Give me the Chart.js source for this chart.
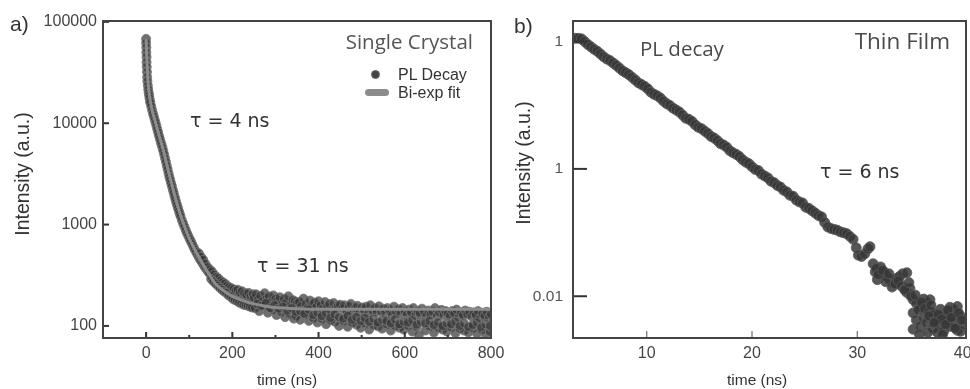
<!DOCTYPE html>
<html>
<head>
<meta charset="utf-8">
<script src="https://cdn.jsdelivr.net/npm/chart.js@4.4.1/dist/chart.umd.min.js"></script>
<style>
html, body { margin: 0; padding: 0; background: #fff; overflow: hidden; width: 970px; height: 389px; }
#wrap { position: relative; width: 970px; height: 389px; overflow: hidden; }
canvas { position: absolute; top: 0; }
#left { left: 0; }
#right { left: 500px; }
.t { position: absolute; white-space: nowrap; line-height: 1; }
.os { font-family: "Open Sans", sans-serif; color: #4a4a4a; }
.dv { font-family: "DejaVu Sans", sans-serif; color: #333; }
.ls { font-family: "Liberation Sans", Arial, sans-serif; color: #333; }
.ylab { transform: translate(-50%, -50%) rotate(-90deg); }
</style>
</head>
<body>
<div id="wrap">
  <canvas id="left" width="520" height="389"></canvas>
  <canvas id="right" width="480" height="389"></canvas>

  <div class="t ls" style="left:10px; top:13px; font-size:21px;">a)</div>
  <div class="t ls" style="left:514px; top:15px; font-size:21px;">b)</div>

  <div class="t ls ylab" style="left:23px; top:174px; font-size:19.5px;">Intensity (a.u.)</div>
  <div class="t ls ylab" style="left:524px; top:163px; font-size:19.5px;">Intensity (a.u.)</div>
  <div class="t ls" style="left:257px; top:372px; font-size:15.5px;">time (ns)</div>
  <div class="t ls" style="left:727px; top:372px; font-size:15.5px;">time (ns)</div>

  <div class="t os" style="right:497px; top:31px; font-size:20.5px; color:#555;">Single Crystal</div>
  <div style="position:absolute; left:371px; top:70px; width:9px; height:9px; border-radius:50%; background:#444; border:1px solid #666; box-sizing:border-box;"></div>
  <div style="position:absolute; left:365px; top:89px; width:24px; height:7px; border-radius:4px; background:#8c8c8c;"></div>
  <div class="t ls" style="left:398px; top:67px; font-size:16px;">PL Decay</div>
  <div class="t ls" style="left:398px; top:85px; font-size:16px;">Bi-exp fit</div>
  <div class="t dv" style="left:190px; top:111px; font-size:19px;">&tau; = 4 ns</div>
  <div class="t dv" style="left:257px; top:256px; font-size:19px;">&tau; = 31 ns</div>

  <div class="t os" style="left:640px; top:38px; font-size:20.5px;">PL decay</div>
  <div class="t os" style="right:20px; top:30px; font-size:22.5px;">Thin Film</div>
  <div class="t dv" style="left:820px; top:162px; font-size:19px;">&tau; = 6 ns</div>
</div>

<script>
// ---- panel a) single crystal ----
const leftXTicks = [0, 200, 400, 600, 800];
const leftXMinor = [100, 300, 500, 700];
const leftYTicks = [100, 1000, 10000, 100000];
const leftYLabels = ["100", "1000", "10000", "100000"];

const leftTime = [
  0, 0, 0.5, 0.5, 1, 1, 1.5, 2, 2.5, 3, 4, 5, 6, 7, 8, 9, 10, 12, 14, 16, 18, 20, 22, 24, 26, 28, 30,
  32, 34, 36, 38, 40, 42, 44, 46, 48, 50, 52, 54, 56, 58, 60, 62, 64, 66, 68, 70, 72, 74, 76, 78, 80,
  83, 86, 89, 92, 95, 98, 101, 104, 107, 110, 113, 116, 119, 122, 125, 128, 131, 134, 137, 140, 143,
  146, 149, 152, 155, 158, 161, 164, 167, 170, 173, 176, 180, 184, 188, 192, 196, 200,
  204, 208, 212, 216, 220, 224, 228, 232, 236, 240, 244, 248,
  122.5, 127.5, 132.5, 137.5, 142.5, 147.5, 152.5, 157.5, 162.5, 167.5, 172.5, 177.5, 182.5, 187.5,
  192.5, 197.5, 202.5, 207.5, 212.5, 217.5, 222.5, 227.5, 232.5, 237.5, 242.5, 247.5,
  151, 156, 161, 166, 171, 176, 181, 186, 191, 196, 201, 206, 211, 216, 221, 226, 231, 236, 241, 246,
  250, 255, 260, 265, 270, 275, 280, 285, 290, 295, 300,
  305, 310, 315, 320, 325, 330, 335, 340, 345, 350,
  355, 360, 365, 370, 375, 380, 385, 390, 395, 400,
  405, 410, 415, 420, 425, 430, 435, 440, 445, 450,
  455, 460, 465, 470, 475, 480, 485, 490, 495, 500,
  505, 510, 515, 520, 525, 530, 535, 540, 545, 550,
  555, 560, 565, 570, 575, 580, 585, 590, 595, 600,
  605, 610, 615, 620, 625, 630, 635, 640, 645, 650,
  655, 660, 665, 670, 675, 680, 685, 690, 695, 700,
  705, 710, 715, 720, 725, 730, 735, 740, 745, 750,
  755, 760, 765, 770, 775, 780, 785, 790, 795, 800,
  252.5, 262.5, 272.5, 282.5, 292.5, 302.5, 312.5, 322.5, 332.5, 342.5,
  347.5, 357.5, 367.5, 377.5, 387.5, 397.5, 407.5, 417.5, 427.5, 437.5,
  447.5, 457.5, 467.5, 477.5, 487.5, 497.5, 507.5, 517.5, 527.5, 537.5,
  547.5, 557.5, 567.5, 577.5, 587.5, 597.5, 607.5, 617.5, 627.5, 632.5,
  647.5, 657.5, 667.5, 677.5, 687.5, 697.5, 707.5, 717.5, 727.5, 737.5,
  747.5, 757.5, 767.5, 777.5, 787.5, 797.5,
  257.5, 267.5, 277.5, 287.5, 297.5, 307.5, 317.5, 327.5, 337.5, 347.5,
  357.5, 367.5, 377.5, 387.5, 397.5, 407.5, 417.5, 427.5, 437.5, 447.5,
  457.5, 467.5, 477.5, 487.5, 497.5, 507.5, 517.5, 527.5, 537.5, 547.5,
  557.5, 567.5, 577.5, 587.5, 597.5, 607.5, 617.5, 627.5, 637.5, 647.5,
  657.5, 667.5, 677.5, 687.5, 697.5, 707.5, 717.5, 727.5, 737.5, 747.5,
  757.5, 767.5, 777.5, 787.5, 797.5
];
const leftIntensity = [
  68000, 62000, 56000, 50000, 45000, 40000, 36000, 32000, 28500, 26000, 23500, 21500, 20000, 18800, 17600, 16500, 15800, 14600, 13400, 12400, 11600, 10800, 10100, 9400, 8700, 8100, 7500,
  7000, 6500, 6100, 5700, 5300, 4900, 4500, 4150, 3800, 3500, 3200, 2950, 2750, 2550, 2380, 2200, 2050, 1900, 1770, 1650, 1550, 1450, 1360, 1280, 1200,
  1100, 1020, 950, 880, 820, 770, 720, 680, 640, 600, 565, 535, 505, 478, 455, 435, 415, 395, 378, 362, 348,
  335, 322, 312, 300, 290, 282, 275, 268, 260, 252, 246, 240, 234, 226, 220, 214, 208,
  204, 200, 196, 193, 190, 188, 185, 183, 180, 178, 176, 174,
  520, 480, 450, 410, 380, 360, 345, 322, 305, 295, 280, 270, 262, 250,
  242, 236, 230, 222, 228, 215, 220, 210, 205, 212, 198, 205,
  290, 275, 262, 250, 238, 228, 218, 212, 200, 195, 185, 180, 176, 170, 166, 162, 160, 158, 155, 152,
  190, 205, 182, 198, 176, 210, 188, 195, 172, 200, 185,
  178, 192, 165, 185, 170, 196, 160, 180, 175, 168,
  172, 158, 186, 165, 150, 178, 162, 170, 155, 175,
  160, 148, 172, 155, 165, 142, 168, 150, 158, 162,
  148, 160, 140, 155, 165, 138, 150, 158, 135, 152,
  145, 155, 132, 160, 142, 150, 138, 156, 140, 148,
  135, 150, 142, 128, 155, 138, 146, 132, 150, 140,
  130, 145, 136, 150, 128, 140, 133, 148, 138, 126,
  142, 130, 138, 150, 125, 136, 144, 128, 140, 132,
  126, 140, 132, 145, 122, 135, 128, 142, 130, 138,
  124, 136, 128, 140, 120, 132, 126, 138, 122, 130,
  150, 140, 158, 135, 145, 128, 138, 122, 132, 118,
  125, 115, 130, 112, 120, 108, 118, 104, 114, 110,
  100, 112, 98, 108, 103, 96, 106, 92, 102, 99,
  94, 104, 90, 100, 96, 92, 101, 88, 98, 81,
  90, 99, 86, 96, 92, 88, 97, 85, 94, 90,
  86, 95, 84, 92, 83, 88,
  165, 158, 168, 150, 160, 148, 155, 142, 150, 138,
  140, 132, 145, 128, 136, 125, 134, 120, 130, 122,
  118, 126, 115, 122, 112, 120, 110, 118, 108, 115,
  112, 106, 116, 104, 110, 108, 114, 103, 110, 106,
  112, 102, 108, 100, 106, 104, 110, 100, 106, 98,
  102, 108, 97, 104, 100
];

const leftFitTime = [0, 1, 2, 3, 5, 7, 10, 15, 20, 25, 30, 40, 50, 60, 70, 80, 90, 100, 115, 130, 145,
  160, 180, 200, 225, 250, 275, 300, 350, 400, 500, 600, 700, 800];
const leftFitIntensity = [68000, 50000, 40000, 33000, 24000, 20000, 16300, 12900, 10800, 9100, 7600, 5400,
  3600, 2450, 1700, 1230, 940, 730, 545, 420, 330, 262, 222, 196, 178, 165, 157, 152, 148, 146, 146, 146, 146, 146];

// ---- panel b) thin film ----
const rightXTicks = [10, 20, 30, 40];
const rightXMarks = [10, 20, 30];
const rightYTicks = [0.01, 0.1, 1];
const rightYLabels = ["0.01", "1", "1"];

const rightTime = [
  3.2, 3.5, 3.8, 4.1, 4.4, 4.7, 5.0, 5.3, 5.6, 5.9, 6.2, 6.5, 6.8, 7.1, 7.4, 7.7, 8.0, 8.3, 8.6, 8.9,
  9.2, 9.5, 9.8, 10.1, 10.4, 10.7, 11.0, 11.3, 11.6, 11.9, 12.2, 12.5, 12.8, 13.1, 13.4, 13.7, 14.0,
  14.3, 14.6, 14.9, 15.2, 15.5, 15.8, 16.1, 16.4, 16.7, 17.0, 17.3, 17.6, 17.9, 18.2, 18.5, 18.8,
  19.1, 19.4, 19.7, 20.0, 20.3, 20.6, 20.9, 21.2, 21.5, 21.8, 22.1, 22.4, 22.7, 23.0, 23.3, 23.6,
  23.9, 24.2, 24.5, 24.8, 25.1, 25.4, 25.7, 26.0, 26.3,
  26.6, 26.9, 27.2, 27.5, 27.8, 28.1, 28.4, 28.7, 29.0, 29.3, 29.6, 29.9, 30.1, 30.4, 30.7, 31.0,
  31.2, 31.5, 31.7, 31.9, 32.2, 32.5, 32.8, 33.1, 33.4, 33.7, 34.0, 34.3, 34.7, 34.7, 35.0, 35.3,
  35.3, 35.3, 35.6, 35.6, 36.0, 36.0, 36.3, 36.3, 36.6, 36.6, 36.9, 36.9, 37.2, 37.2, 37.6, 37.6,
  37.9, 37.9, 38.2, 38.2, 38.5, 38.5, 38.8, 38.8, 39.1, 39.1, 39.5, 39.5, 39.8, 39.8, 40.1,
  31.8, 32.0, 32.4, 32.7, 33.0, 33.3, 33.6, 33.9, 34.2, 34.5, 34.9, 35.1, 35.5, 35.8, 36.1, 36.4,
  36.8, 37.0, 37.4, 37.7, 38.0, 38.4, 38.6, 39.0, 39.3, 39.6, 39.9, 35.9, 36.7, 37.3, 38.1, 38.9
];
const rightIntensity = [
  1.06, 1.06, 1.05, 1.0, 0.95, 0.91, 0.87, 0.84, 0.80, 0.76, 0.73, 0.71, 0.68, 0.65, 0.62, 0.59, 0.57, 0.55, 0.525, 0.50,
  0.475, 0.46, 0.445, 0.425, 0.40, 0.385, 0.375, 0.36, 0.34, 0.325, 0.315, 0.30, 0.29, 0.28, 0.265, 0.25, 0.245,
  0.236, 0.222, 0.212, 0.207, 0.198, 0.19, 0.18, 0.175, 0.167, 0.158, 0.154, 0.148, 0.139, 0.134, 0.130, 0.125,
  0.118, 0.113, 0.110, 0.104, 0.099, 0.097, 0.091, 0.088, 0.085, 0.080, 0.078, 0.074, 0.072, 0.068, 0.066, 0.062,
  0.061, 0.057, 0.055, 0.054, 0.050, 0.049, 0.047, 0.045, 0.043,
  0.042, 0.038, 0.035, 0.034, 0.0335, 0.033, 0.032, 0.0315, 0.031, 0.0295, 0.028, 0.024, 0.021, 0.0205, 0.0215, 0.0235,
  0.0245, 0.018, 0.0155, 0.0135, 0.017, 0.0155, 0.0143, 0.0135, 0.0128, 0.0138, 0.0143, 0.015, 0.0153, 0.0107, 0.0115, 0.0094,
  0.0074, 0.0055, 0.0088, 0.0065, 0.0083, 0.0058, 0.0095, 0.0068, 0.0089, 0.0062, 0.0094, 0.0075, 0.0074, 0.0056, 0.0052, 0.0068,
  0.0079, 0.0060, 0.0072, 0.0053, 0.0074, 0.0065, 0.0082, 0.0058, 0.0079, 0.0062, 0.0083, 0.0054, 0.0053, 0.0070, 0.0060,
  0.0165, 0.0148, 0.0160, 0.0130, 0.0150, 0.0118, 0.0125, 0.0132, 0.0120, 0.0112, 0.0128, 0.0100, 0.0102, 0.0078, 0.0090, 0.0080,
  0.0070, 0.0085, 0.0064, 0.0072, 0.0066, 0.0060, 0.0078, 0.0068, 0.0056, 0.0074, 0.0065, 0.0050, 0.0052, 0.0062, 0.0050, 0.0068
];

const toPoints = (xs, ys) => xs.map((x, i) => ({ x: x, y: ys[i] }));

// frame + inward tick marks, placed with the chart's own scales
function frameTicks(cfg) {
  return {
    id: 'frameTicks',
    afterDatasetsDraw(chart) {
      const { ctx, chartArea: a, scales } = chart;
      const seg = (x1, y1, x2, y2) => { ctx.beginPath(); ctx.moveTo(x1, y1); ctx.lineTo(x2, y2); ctx.stroke(); };
      ctx.save();
      ctx.strokeStyle = cfg.xTickColor;
      ctx.lineWidth = cfg.xTickWidth;
      cfg.xMajor.forEach(v => { const p = scales.x.getPixelForValue(v); seg(p, a.bottom, p, a.bottom - cfg.xMajorLen); });
      cfg.xMinor.forEach(v => { const p = scales.x.getPixelForValue(v); seg(p, a.bottom, p, a.bottom - cfg.xMinorLen); });
      ctx.strokeStyle = '#333';
      ctx.lineWidth = 2;
      cfg.yMajor.forEach(v => { const p = scales.y.getPixelForValue(v); seg(a.left, p, a.left + cfg.yLen, p); });
      ctx.strokeStyle = '#444';
      ctx.strokeRect(a.left, a.top, a.right - a.left, a.bottom - a.top);
      ctx.restore();
    }
  };
}

const tickFont = { family: '"Liberation Sans", Arial, sans-serif', size: 16 };

new Chart(document.getElementById('left'), {
  type: 'scatter',
  data: {
    datasets: [
      {
        label: 'Bi-exp fit',
        data: toPoints(leftFitTime, leftFitIntensity),
        showLine: true,
        borderColor: '#8c8c8c',
        borderWidth: 3,
        pointRadius: 0,
        tension: 0.3,
        order: 0
      },
      {
        label: 'PL Decay',
        data: toPoints(leftTime, leftIntensity),
        backgroundColor: 'rgba(55,55,55,0.72)',
        borderColor: 'rgba(120,120,120,0.85)',
        borderWidth: 1,
        pointRadius: 4.5,
        order: 1
      }
    ]
  },
  options: {
    responsive: false,
    animation: false,
    devicePixelRatio: 1,
    layout: { padding: { top: 21, right: 29, bottom: 0, left: 0 } },
    plugins: { legend: { display: false }, tooltip: { enabled: false } },
    scales: {
      x: {
        type: 'linear', min: -100, max: 800,
        afterBuildTicks: s => { s.ticks = leftXTicks.map(v => ({ value: v })); },
        afterFit: s => { s.height = 51; },
        grid: { display: false, drawTicks: false },
        border: { display: false },
        ticks: { font: tickFont, color: '#444', padding: 6, maxRotation: 0, autoSkip: false }
      },
      y: {
        type: 'logarithmic', min: 76, max: 102000,
        afterBuildTicks: s => { s.ticks = leftYTicks.map(v => ({ value: v })); },
        afterFit: s => { s.width = 103; },
        grid: { display: false, drawTicks: false },
        border: { display: false },
        ticks: { font: tickFont, color: '#444', padding: 6, autoSkip: false,
          callback: (v, i) => leftYLabels[i] }
      }
    }
  },
  plugins: [frameTicks({
    xMajor: leftXTicks, xMinor: leftXMinor, xMajorLen: 6, xMinorLen: 3,
    xTickColor: '#333', xTickWidth: 2, yMajor: leftYTicks, yLen: 6
  })]
});

new Chart(document.getElementById('right'), {
  type: 'scatter',
  data: {
    datasets: [
      {
        label: 'PL decay',
        data: toPoints(rightTime, rightIntensity),
        backgroundColor: 'rgba(55,55,55,0.85)',
        borderColor: 'rgba(90,90,90,0.8)',
        borderWidth: 1,
        pointRadius: 5
      }
    ]
  },
  options: {
    responsive: false,
    animation: false,
    devicePixelRatio: 1,
    layout: { padding: { top: 21, right: 14, bottom: 0, left: 0 } },
    plugins: { legend: { display: false }, tooltip: { enabled: false } },
    scales: {
      x: {
        type: 'linear', min: 3, max: 40.32,
        afterBuildTicks: s => { s.ticks = rightXTicks.map(v => ({ value: v })); },
        afterFit: s => { s.height = 51; },
        grid: { display: false, drawTicks: false },
        border: { display: false },
        ticks: { font: tickFont, color: '#444', padding: 6, maxRotation: 0, autoSkip: false }
      },
      y: {
        type: 'logarithmic', min: 0.0047, max: 1.45,
        afterBuildTicks: s => { s.ticks = rightYTicks.map(v => ({ value: v })); },
        afterFit: s => { s.width = 73; },
        grid: { display: false, drawTicks: false },
        border: { display: false },
        ticks: { font: { family: '"Liberation Sans", Arial, sans-serif', size: 15.5 }, color: '#555', padding: 10,
          autoSkip: false, callback: (v, i) => rightYLabels[i] }
      }
    }
  },
  plugins: [frameTicks({
    xMajor: rightXMarks, xMinor: [], xMajorLen: 7, xMinorLen: 0,
    xTickColor: '#888', xTickWidth: 1.5, yMajor: rightYTicks, yLen: 14
  })]
});
</script>
</body>
</html>
